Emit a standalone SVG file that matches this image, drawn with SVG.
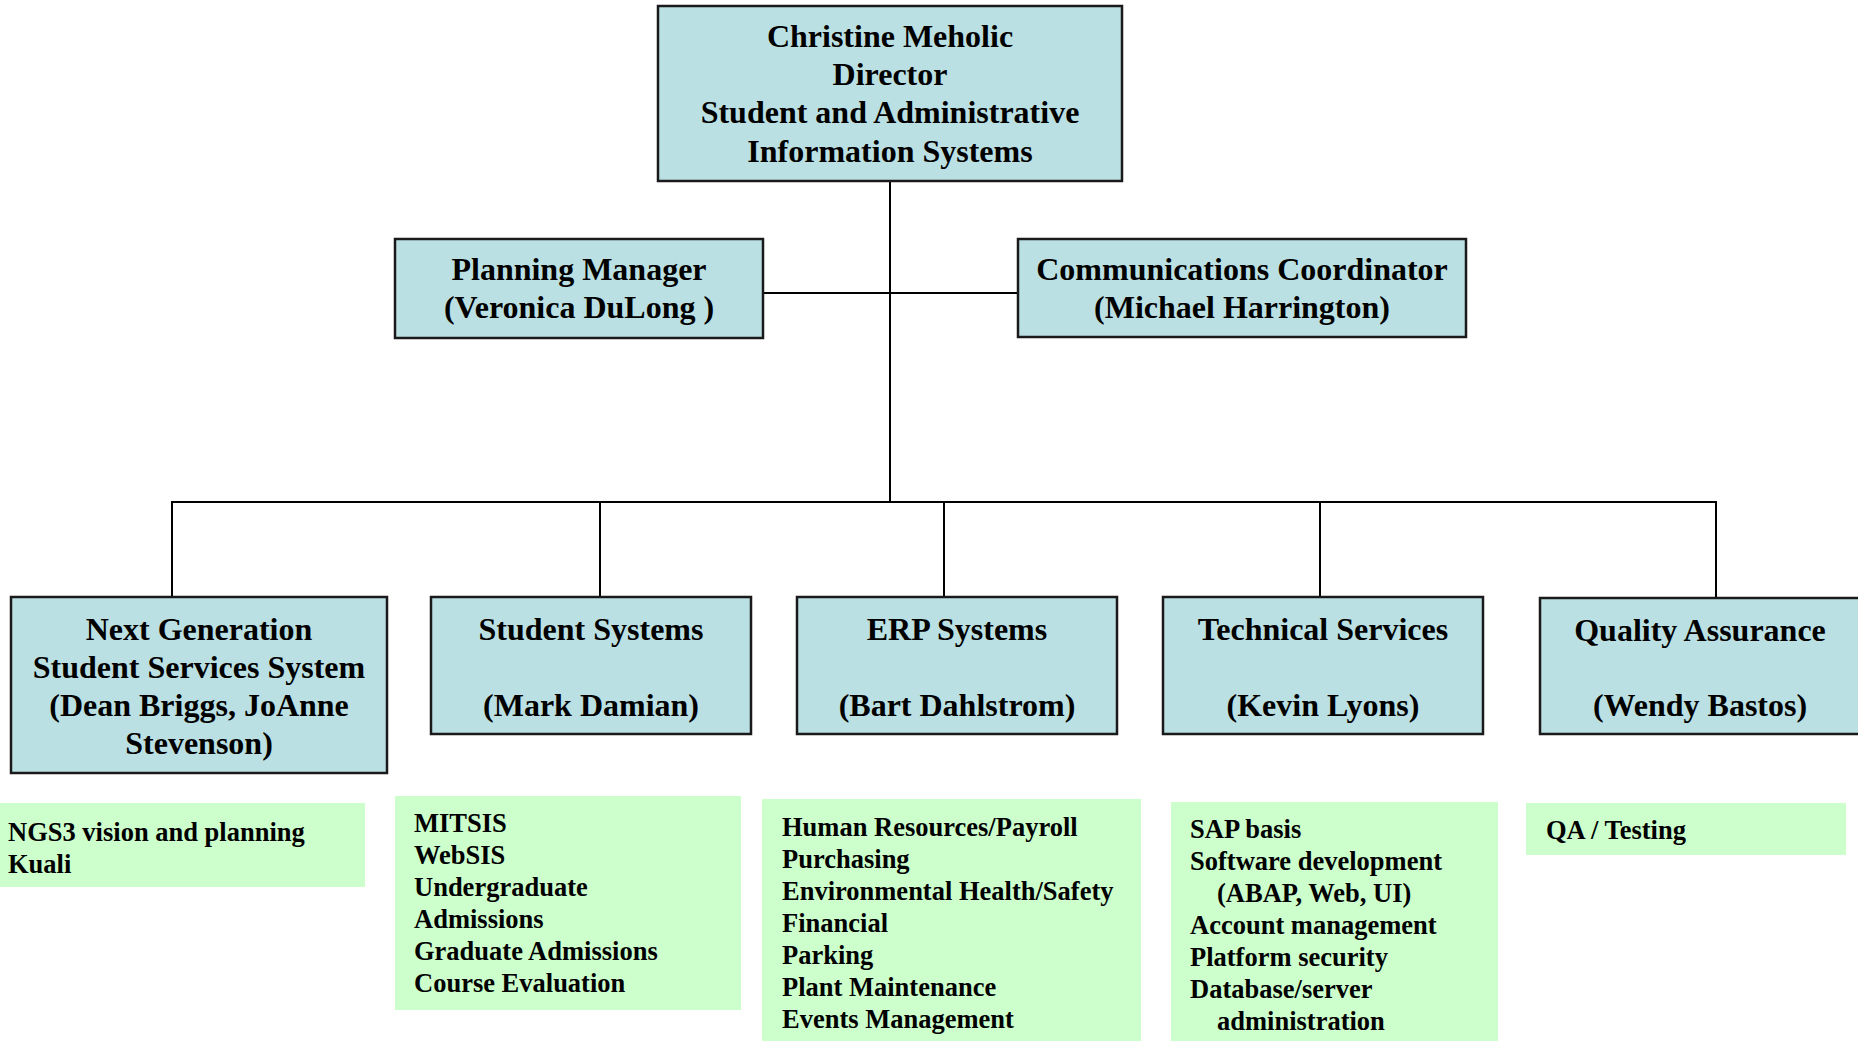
<svg xmlns="http://www.w3.org/2000/svg" width="1858" height="1041" viewBox="0 0 1858 1041">
<style>
.box{fill:#BBE0E3;stroke:#1a1a1a;stroke-width:2.5}
.gbox{fill:#CCFFCC;stroke:none}
.t{font-family:"Liberation Serif","Times New Roman",serif;font-weight:bold;font-size:32px;fill:#000;text-anchor:middle}
.g{font-family:"Liberation Serif","Times New Roman",serif;font-weight:bold;font-size:26.5px;fill:#000}
.c{stroke:#000;stroke-width:2;fill:none}
</style>
<rect width="1858" height="1041" fill="#fff"/>
<g id="connectors">
<line class="c" x1="890" y1="181" x2="890" y2="502"/>
<line class="c" x1="763" y1="293" x2="1018" y2="293"/>
<polyline class="c" points="172,597 172,502 1716,502 1716,598"/>
<line class="c" x1="600" y1="502" x2="600" y2="597"/>
<line class="c" x1="944" y1="502" x2="944" y2="597"/>
<line class="c" x1="1320" y1="502" x2="1320" y2="597"/>
</g>
<g id="director">
<rect class="box" x="658" y="6" width="464" height="175"/>
<text class="t" x="890" y="47">Christine Meholic</text>
<text class="t" x="890" y="85">Director</text>
<text class="t" x="890" y="123">Student and Administrative</text>
<text class="t" x="890" y="162">Information Systems</text>
</g>
<g id="planning">
<rect class="box" x="395" y="239" width="368" height="99"/>
<text class="t" x="579" y="280">Planning Manager</text>
<text class="t" x="579" y="318">(Veronica DuLong )</text>
</g>
<g id="communications">
<rect class="box" x="1018" y="239" width="448" height="98"/>
<text class="t" x="1242" y="280">Communications Coordinator</text>
<text class="t" x="1242" y="318">(Michael Harrington)</text>
</g>
<g id="ngs">
<rect class="box" x="11" y="597" width="376" height="176"/>
<text class="t" x="199" y="640">Next Generation</text>
<text class="t" x="199" y="678">Student Services System</text>
<text class="t" x="199" y="716">(Dean Briggs, JoAnne</text>
<text class="t" x="199" y="754">Stevenson)</text>
</g>
<g id="student">
<rect class="box" x="431" y="597" width="320" height="137"/>
<text class="t" x="591" y="640">Student Systems</text>
<text class="t" x="591" y="716">(Mark Damian)</text>
</g>
<g id="erp">
<rect class="box" x="797" y="597" width="320" height="137"/>
<text class="t" x="957" y="640">ERP Systems</text>
<text class="t" x="957" y="716">(Bart Dahlstrom)</text>
</g>
<g id="technical">
<rect class="box" x="1163" y="597" width="320" height="137"/>
<text class="t" x="1323" y="640">Technical Services</text>
<text class="t" x="1323" y="716">(Kevin Lyons)</text>
</g>
<g id="qa">
<rect class="box" x="1540" y="598" width="330" height="136"/>
<text class="t" x="1700" y="641">Quality Assurance</text>
<text class="t" x="1700" y="716">(Wendy Bastos)</text>
</g>
<g id="ngs-list">
<rect class="gbox" x="0" y="803" width="365" height="84"/>
<text class="g" x="8" y="841">NGS3 vision and planning</text>
<text class="g" x="8" y="873">Kuali</text>
</g>
<g id="student-list">
<rect class="gbox" x="395" y="796" width="346" height="214"/>
<text class="g" x="414" y="832">MITSIS</text>
<text class="g" x="414" y="864">WebSIS</text>
<text class="g" x="414" y="896">Undergraduate</text>
<text class="g" x="414" y="928">Admissions</text>
<text class="g" x="414" y="960">Graduate Admissions</text>
<text class="g" x="414" y="992">Course Evaluation</text>
</g>
<g id="erp-list">
<rect class="gbox" x="762" y="799" width="379" height="242"/>
<text class="g" x="782" y="836">Human Resources/Payroll</text>
<text class="g" x="782" y="868">Purchasing</text>
<text class="g" x="782" y="900">Environmental Health/Safety</text>
<text class="g" x="782" y="932">Financial</text>
<text class="g" x="782" y="964">Parking</text>
<text class="g" x="782" y="996">Plant Maintenance</text>
<text class="g" x="782" y="1028">Events Management</text>
</g>
<g id="technical-list">
<rect class="gbox" x="1171" y="802" width="327" height="239"/>
<text class="g" x="1190" y="838">SAP basis</text>
<text class="g" x="1190" y="870">Software development</text>
<text class="g" x="1217" y="902">(ABAP, Web, UI)</text>
<text class="g" x="1190" y="934">Account management</text>
<text class="g" x="1190" y="966">Platform security</text>
<text class="g" x="1190" y="998">Database/server</text>
<text class="g" x="1217" y="1030">administration</text>
</g>
<g id="qa-list">
<rect class="gbox" x="1526" y="803" width="320" height="52"/>
<text class="g" x="1546" y="839">QA / Testing</text>
</g>
</svg>
